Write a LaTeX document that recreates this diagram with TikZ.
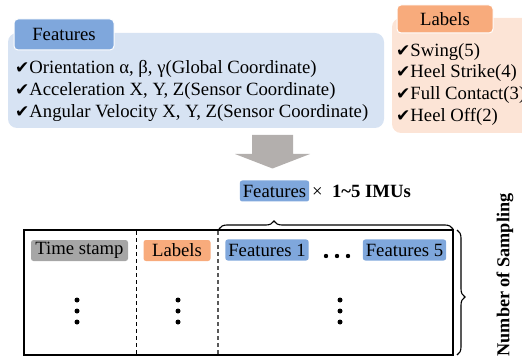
\documentclass[tikz,border=0pt]{standalone}
\usepackage{fontspec}
\setmainfont{Liberation Serif}
\newfontfamily\symf{DejaVu Sans}
\usetikzlibrary{decorations.pathreplacing}
\definecolor{featblue}{HTML}{7FA7DC}
\definecolor{panelblue}{HTML}{D7E3F3}
\definecolor{taborange}{HTML}{F8AB7C}
\definecolor{panelorange}{HTML}{FCE4D6}
\definecolor{stampgray}{HTML}{A6A6A6}
\definecolor{arrowgray}{HTML}{B3AFAD}
\newcommand{\chk}{{\symf\fontsize{17}{17}\selectfont ✔}}
\tikzset{
  txt/.style={font=\fontsize{18.7}{18.7}\selectfont, inner sep=0pt},
  line/.style={anchor=west, txt},
  tag/.style={txt, rounded corners=2.5pt, inner xsep=3pt, minimum height=21pt},
  vdot/.style={fill=black, circle, inner sep=0pt, minimum size=5pt},
  bracestyle/.style={decorate, decoration={brace, amplitude=8pt, aspect=#1}, line width=1.1pt}
}
\begin{document}
\begin{tikzpicture}[x=1pt, y=-1pt]
\useasboundingbox (0,0) rectangle (522,358);
\begin{scope}
\clip (0,0) rectangle (522,358);
% Features panel
\fill[panelblue, rounded corners=9pt] (8,33) rectangle (384,128);
\node[fill=featblue, draw=white, line width=1pt, rounded corners=4pt, minimum width=100pt, minimum height=31pt, txt] (ftab) at (64,34.5) {Features};
\node[line] (f1) at (15,69) {\chk Orientation α, β, γ(Global Coordinate)};
\node[line] (f2) at (15,91) {\chk Acceleration X, Y, Z(Sensor Coordinate)};
\node[line] (f3) at (15,113) {\chk Angular Velocity X, Y, Z(Sensor Coordinate)};
% Labels panel
\fill[panelorange, rounded corners=9pt] (392,18) rectangle (540,133);
\node[fill=taborange, draw=white, line width=1pt, rounded corners=4pt, minimum width=96pt, minimum height=28pt, txt] (ltab) at (445,19) {Labels};
\node[line] (l1) at (396,52) {\chk Swing(5)};
\node[line] (l2) at (396,73) {\chk Heel Strike(4)};
\node[line] (l3) at (396,95) {\chk Full Contact(3)};
\node[line] (l4) at (396,117) {\chk Heel Off(2)};
\end{scope}
% arrow
\fill[arrowgray] (252,135) -- (293,135) -- (293,154) -- (310,154) -- (272.5,168.5) -- (235,154) -- (252,154) -- cycle;
% Features x IMUs
\node[tag, fill=featblue, minimum width=69pt] (fx) at (274.5,191) {Features};
\node[txt, anchor=west] (imu) at (312,191.5) {× \textbf{ 1\textasciitilde 5 IMUs}};
% table
\coordinate (tl) at (24,230);
\coordinate (br) at (453,355);
\draw[line width=1.8pt] (tl) rectangle (br);
\draw[dashed, line width=0.9pt, dash pattern=on 4pt off 3pt] (136,231) -- (136,354);
\draw[dashed, line width=1.1pt, dash pattern=on 4pt off 3pt, black!65] (218,231) -- (218,354);
\node[tag, fill=stampgray, minimum width=97pt] (ts) at (79.5,250.5) {Time stamp};
\node[tag, fill=taborange, minimum width=67pt] (lb) at (177,250.5) {Labels};
\node[tag, fill=featblue, minimum width=82pt] (fe1) at (267,250) {Features 1};
\node[tag, fill=featblue, minimum width=83pt] (fe5) at (404.5,250) {Features 5};
\foreach \x/\n in {326/a,337/b,348/c} \node[vdot, minimum size=4.4pt] (h\n) at (\x,256) {};
\foreach \x/\n in {77/t,178/l,340/f} {
  \node[vdot] (\n1) at (\x,300) {};
  \node[vdot] (\n2) at (\x,311) {};
  \node[vdot] (\n3) at (\x,322) {};
}
% braces
\coordinate (b1s) at (219,229);
\coordinate (b1e) at (453,229);
\draw[bracestyle=0.235] (b1s) -- (b1e);
\coordinate (b2s) at (457,230);
\coordinate (b2e) at (457,355);
\draw[bracestyle=0.536] (b2s) -- (b2e);
\node[txt, rotate=90, font=\fontsize{18.2}{18.2}\selectfont\bfseries] (ns) at (505,275) {Number of Sampling};
\end{tikzpicture}
\end{document}
